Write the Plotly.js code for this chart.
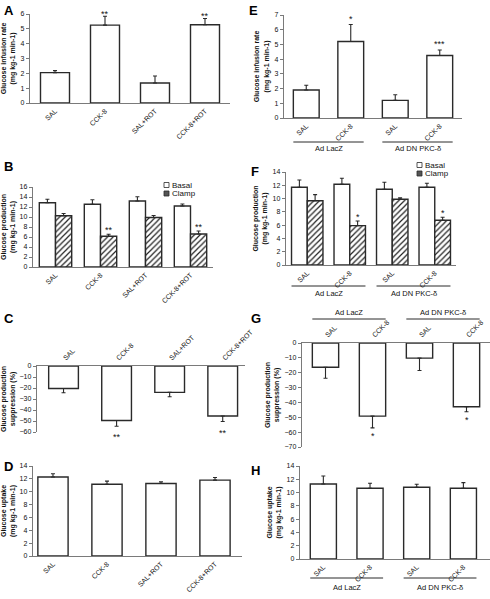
<!DOCTYPE html>
<html><head><meta charset="utf-8">
<script src="https://cdn.plot.ly/plotly-3.0.1.min.js"></script>
<style>html,body{margin:0;padding:0;background:#fff}#chart{width:490px;height:599px}</style>
</head><body><div id="chart"></div>
<script>
// ---------- data ----------
const catsA = ['SAL', 'CCK-8', 'SAL+ROT', 'CCK-8+ROT'];
const girA = [2.05, 5.25, 1.35, 5.28];
const girAErr = [0.13, 0.6, 0.47, 0.42];
const girAStars = ['', '**', '', '**'];

const basalB = [12.85, 12.55, 13.2, 12.2];
const basalBErr = [0.7, 0.9, 0.85, 0.4];
const clampB = [10.25, 6.15, 9.9, 6.6];
const clampBErr = [0.45, 0.4, 0.4, 0.6];
const clampBStars = ['', '**', '', '**'];

const supC = [-20.5, -49.5, -24.0, -45.5];
const supCErr = [3.8, 5.3, 3.9, 5.0];
const supCStars = ['', '**', '', '**'];

const upD = [12.3, 11.15, 11.28, 11.8];
const upDErr = [0.5, 0.5, 0.25, 0.4];

const catsE = ['SAL', 'CCK-8', 'SAL', 'CCK-8'];
const groupsE = ['Ad LacZ', 'Ad DN PKC-δ'];
const girE = [1.9, 5.2, 1.2, 4.25];
const girEErr = [0.33, 1.15, 0.38, 0.37];
const girEStars = ['', '*', '', '***'];

const basalF = [11.7, 12.15, 11.4, 11.7];
const basalFErr = [1.1, 0.9, 1.05, 0.6];
const clampF = [9.68, 5.93, 9.9, 6.73];
const clampFErr = [0.92, 0.7, 0.2, 0.45];
const clampFStars = ['', '*', '', '*'];

const supG = [-16.3, -49.2, -10.2, -42.9];
const supGErr = [7.4, 7.9, 8.3, 3.4];
const supGStars = ['', '*', '', '*'];

const upH = [11.3, 10.65, 10.8, 10.65];
const upHErr = [1.2, 0.75, 0.45, 0.85];

const legendNames = ['Basal', 'Clamp'];
const titleGIR = 'Glucose infusion rate<br>(mg kg-1 min-1)';
const titleGP = 'Glucose production<br>(mg kg-1 min-1)';
const titleSup = 'Glucose production<br>suppression (%)';
const titleUp = 'Glucose uptake<br>(mg kg-1 min-1)';

// ---------- layout helpers ----------
const W = 490, H = 599;
const FONT = 'Liberation Sans, Arial, sans-serif';
const LINE = '#2a2a2a';
const AXC = '#7a7a7a';
const px = (a, b) => [a / W, b / W];
const py = (top, bot) => [1 - bot / H, 1 - top / H];

const panels = {
  A: {n: '',  xd: [30, 230], yd: [14, 103],  xr: [-0.5, 3.5],  yr: [0, 6],    dt: 1,  cats: catsA, side: 'bottom', title: titleGIR, w: 0.58, letter: [2, 10]},
  B: {n: '2', xd: [33, 213], yd: [187, 267], xr: [-0.5, 3.5],  yr: [0, 16],   dt: 2,  cats: catsA, side: 'bottom', title: titleGP,  w: 0.36, letter: [2, 166]},
  C: {n: '3', xd: [37, 245], yd: [366, 432], xr: [-0.5, 3.42], yr: [-60, 0],  dt: 10, cats: catsA, side: 'top',    title: titleSup, w: 0.56, letter: [2, 318]},
  D: {n: '4', xd: [33, 242], yd: [466, 556], xr: [-0.37, 3.5], yr: [0, 14],   dt: 2,  cats: catsA, side: 'bottom', title: titleUp,  w: 0.56, letter: [2, 466]},
  E: {n: '5', xd: [284, 462], yd: [15, 118], xr: [-0.5, 3.5], yr: [0, 7],    dt: 1,  cats: catsE, side: 'bottom', title: titleGIR, w: 0.58, letter: [247, 10]},
  F: {n: '6', xd: [286, 456], yd: [172, 265], xr: [-0.5, 3.5], yr: [0, 14],   dt: 2,  cats: catsE, side: 'bottom', title: titleGP,  w: 0.37, letter: [249, 172]},
  G: {n: '7', xd: [302, 490], yd: [343, 447], xr: [-0.5, 3.5], yr: [-70, 0],  dt: 10, cats: catsE, side: 'top',    title: titleSup, w: 0.56, letter: [249, 318]},
  H: {n: '8', xd: [300, 490], yd: [466, 559], xr: [-0.5, 3.57], yr: [0, 14],  dt: 2,  cats: catsE, side: 'bottom', title: titleUp,  w: 0.56, letter: [249, 470]}
};

const layout = {
  width: W, height: H,
  margin: {l: 0, r: 0, t: 0, b: 0},
  paper_bgcolor: '#fff', plot_bgcolor: 'rgba(0,0,0,0)',
  font: {family: FONT, color: '#111', size: 7},
  showlegend: false,
  barmode: 'overlay',
  shapes: [], annotations: []
};
const traces = [];

for (const k in panels) {
  const p = panels[k];
  const idx = p.cats.map((_, i) => i);
  layout['xaxis' + p.n] = {
    domain: px(p.xd[0], p.xd[1]), anchor: 'y' + p.n, range: p.xr,
    tickmode: 'array', tickvals: idx, ticktext: p.cats, tickangle: -45,
    side: p.side, showline: true, linecolor: AXC, linewidth: 1.3,
    ticks: '', showgrid: false, zeroline: false, fixedrange: true,
    tickfont: {size: 7, color: '#111'}
  };
  layout['yaxis' + p.n] = {
    domain: py(p.yd[0], p.yd[1]), anchor: 'x' + p.n, range: p.yr,
    tick0: 0, dtick: p.dt, showline: true, linecolor: AXC, linewidth: 1.3,
    ticks: 'outside', ticklen: 3, tickcolor: AXC, showgrid: false, zeroline: false,
    fixedrange: true, tickfont: {size: 7, color: '#111'},
    title: {text: p.title, font: {size: 7, weight: 'bold', color: '#111'}, standoff: 4}
  };
  layout.annotations.push({
    xref: 'paper', yref: 'paper', x: p.letter[0] / W, y: 1 - p.letter[1] / H,
    xanchor: 'left', yanchor: 'middle', showarrow: false,
    text: '<b>' + k + '</b>', font: {size: 13, family: FONT, color: '#000'}
  });
}

function barTrace(p, vals, errs, extra) {
  const idx = vals.map((_, i) => i);
  const neg = vals.map(v => v < 0);
  return Object.assign({
    type: 'bar', x: idx, y: vals, xaxis: 'x' + p.n, yaxis: 'y' + p.n,
    width: p.w, hoverinfo: 'skip', showlegend: false,
    marker: {color: '#fff', line: {color: LINE, width: 1.4}},
    error_y: {
      type: 'data', symmetric: false, visible: true,
      array: errs.map((e, i) => neg[i] ? 0 : e),
      arrayminus: errs.map((e, i) => neg[i] ? e : 0),
      color: LINE, thickness: 1.1, width: 2
    }
  }, extra || {});
}

// significance stars: annotations anchored at the error-bar end, shifted in px
function stars(p, vals, errs, marks, offPx, shift) {
  marks.forEach((s, i) => {
    if (!s) return;
    const v = vals[i];
    const end = v >= 0 ? v + errs[i] : v - errs[i];
    layout.annotations.push({
      xref: 'x' + p.n, yref: 'y' + p.n, x: i + (shift || 0), y: end,
      yshift: v >= 0 ? (offPx - 2) : -(offPx + 2),
      xanchor: 'center', yanchor: 'middle', showarrow: false,
      text: s, font: {size: 9, family: FONT, color: '#111'}
    });
  });
}

const hatch = {shape: '/', fgcolor: '#222', bgcolor: '#fff', size: 4, solidity: 0.3};

// single-bar panels
traces.push(barTrace(panels.A, girA, girAErr));
stars(panels.A, girA, girAErr, girAStars, 4);
traces.push(barTrace(panels.C, supC, supCErr));
stars(panels.C, supC, supCErr, supCStars, 9);
traces.push(barTrace(panels.D, upD, upDErr));
traces.push(barTrace(panels.E, girE, girEErr));
stars(panels.E, girE, girEErr, girEStars, 8);
traces.push(barTrace(panels.G, supG, supGErr));
stars(panels.G, supG, supGErr, supGStars, 6);
traces.push(barTrace(panels.H, upH, upHErr));

// grouped panels
[['B', basalB, basalBErr, clampB, clampBErr, clampBStars], ['F', basalF, basalFErr, clampF, clampFErr, clampFStars]]
  .forEach(([k, b, be, c, ce, st]) => {
    const p = panels[k];
    traces.push(barTrace(p, b, be, {name: legendNames[0], offset: -p.w}));
    traces.push(barTrace(p, c, ce, {name: legendNames[1], offset: 0,
      marker: {color: '#fff', line: {color: LINE, width: 1.4}, pattern: hatch}}));
    stars(p, c, ce, st, 6, p.w / 2);
  });

// manual legends (B and F)
function legend(xl, yTop) {
  legendNames.forEach((nm, i) => {
    const yc = yTop + i * 8.5;
    layout.shapes.push({
      type: 'rect', xref: 'paper', yref: 'paper',
      x0: xl / W, x1: (xl + 5) / W, y0: 1 - (yc + 2.5) / H, y1: 1 - (yc - 2.5) / H,
      line: {color: LINE, width: 0.8}, fillcolor: i === 0 ? '#fff' : '#555'
    });
    layout.annotations.push({
      xref: 'paper', yref: 'paper', x: (xl + 5.5) / W, y: 1 - yc / H,
      xanchor: 'left', yanchor: 'middle', showarrow: false,
      text: nm, font: {size: 8, family: FONT, color: '#111'}
    });
  });
}
legend(164, 185);
legend(417, 165);

// group brackets (E, F, G, H)
function groups(k, yLine, yText, half) {
  const p = panels[k];
  groupsE.forEach((g, gi) => {
    const i = gi * 2, j = gi * 2 + 1;
    layout.shapes.push({
      type: 'line', xref: 'x' + p.n, yref: 'paper',
      x0: i - half, x1: j + half, y0: 1 - yLine / H, y1: 1 - yLine / H,
      line: {color: LINE, width: 1}
    });
    layout.annotations.push({
      xref: 'x' + p.n, yref: 'paper', x: (i + j) / 2, y: 1 - yText / H,
      xanchor: 'center', yanchor: 'middle', showarrow: false,
      text: g, font: {size: 7.5, family: FONT, color: '#111'}
    });
  });
}
groups('E', 142, 148, panels.E.w / 2);
groups('F', 286, 293, panels.F.w);
groups('G', 319, 312, panels.G.w / 2);
groups('H', 578, 587, panels.H.w / 2);

Plotly.newPlot('chart', traces, layout, {displayModeBar: false, staticPlot: true});
</script>
</body></html>
